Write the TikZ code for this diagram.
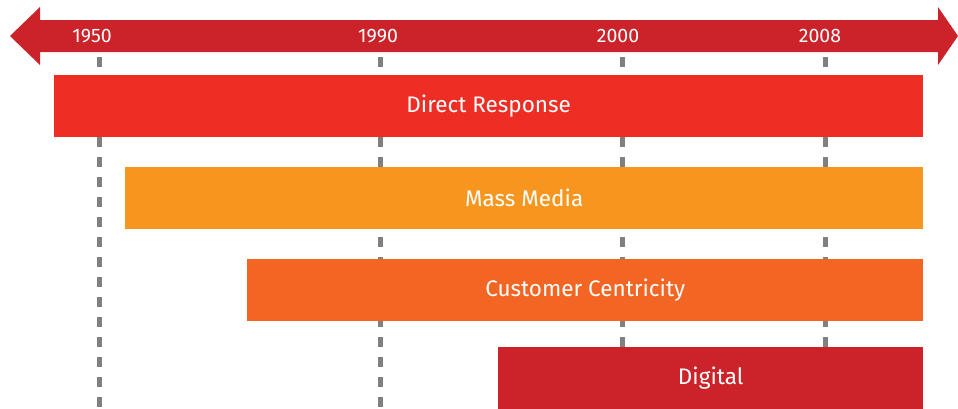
\documentclass[tikz,border=0pt]{standalone}
\usepackage{fontspec}
\setmainfont{Fira Sans}
\definecolor{axisred}{HTML}{CC2229}
\definecolor{directred}{HTML}{EE2E24}
\definecolor{massorange}{HTML}{F6961F}
\definecolor{custorange}{HTML}{F26522}
\definecolor{digitalred}{HTML}{CC2229}
\definecolor{tickgray}{HTML}{808080}
\tikzset{
    bar/.style={anchor=north west, minimum height=62pt, inner sep=0pt,
        text=white, font=\fontsize{22.5}{22.5}\selectfont},
    year/.style={text=white, font=\fontsize{19.5}{19.5}\selectfont},
    guide/.style={tickgray, line width=5pt, dash pattern=on 10pt off 10pt}
}
\begin{document}
\begin{tikzpicture}[x=1pt,y=-1pt]
    \useasboundingbox (0,0) rectangle (958,408);

    % time axis
    \fill[axisred] (10,36) -- (40,7) -- (40,20) -- (938,20) -- (938,7)
    -- (958,36) -- (938,65) -- (938,52) -- (40,52) -- (40,65) -- cycle;

    \node[year] (y1950) at (92,36) {1950};
    \node[year] (y1990) at (378,36) {1990};
    \node[year] (y2000) at (618,36) {2000};
    \node[year] (y2008) at (820,36) {2008};

    % guides
    \coordinate (g1950) at (99,408);
    \coordinate (g1990) at (380,408);
    \coordinate (g2000) at (622,408);
    \coordinate (g2008) at (825,408);
    \draw[guide] (99,57) -- (g1950);
    \draw[guide] (380,57) -- (g1990);
    \draw[guide] (622,57) -- (g2000);
    \draw[guide] (825,57) -- (g2008);

    % bars
    \node[bar, fill=directred, minimum width=869pt] (direct) at (54,75) {Direct Response};
    \node[bar, fill=massorange, minimum width=798pt] (mass) at (125,167) {Mass Media};
    \node[bar, fill=custorange, minimum width=676pt] (cust) at (247,259) {Customer Centricity};
    \node[bar, fill=digitalred, minimum width=425pt] (digital) at (498,347) {Digital};

\end{tikzpicture}
\end{document}
